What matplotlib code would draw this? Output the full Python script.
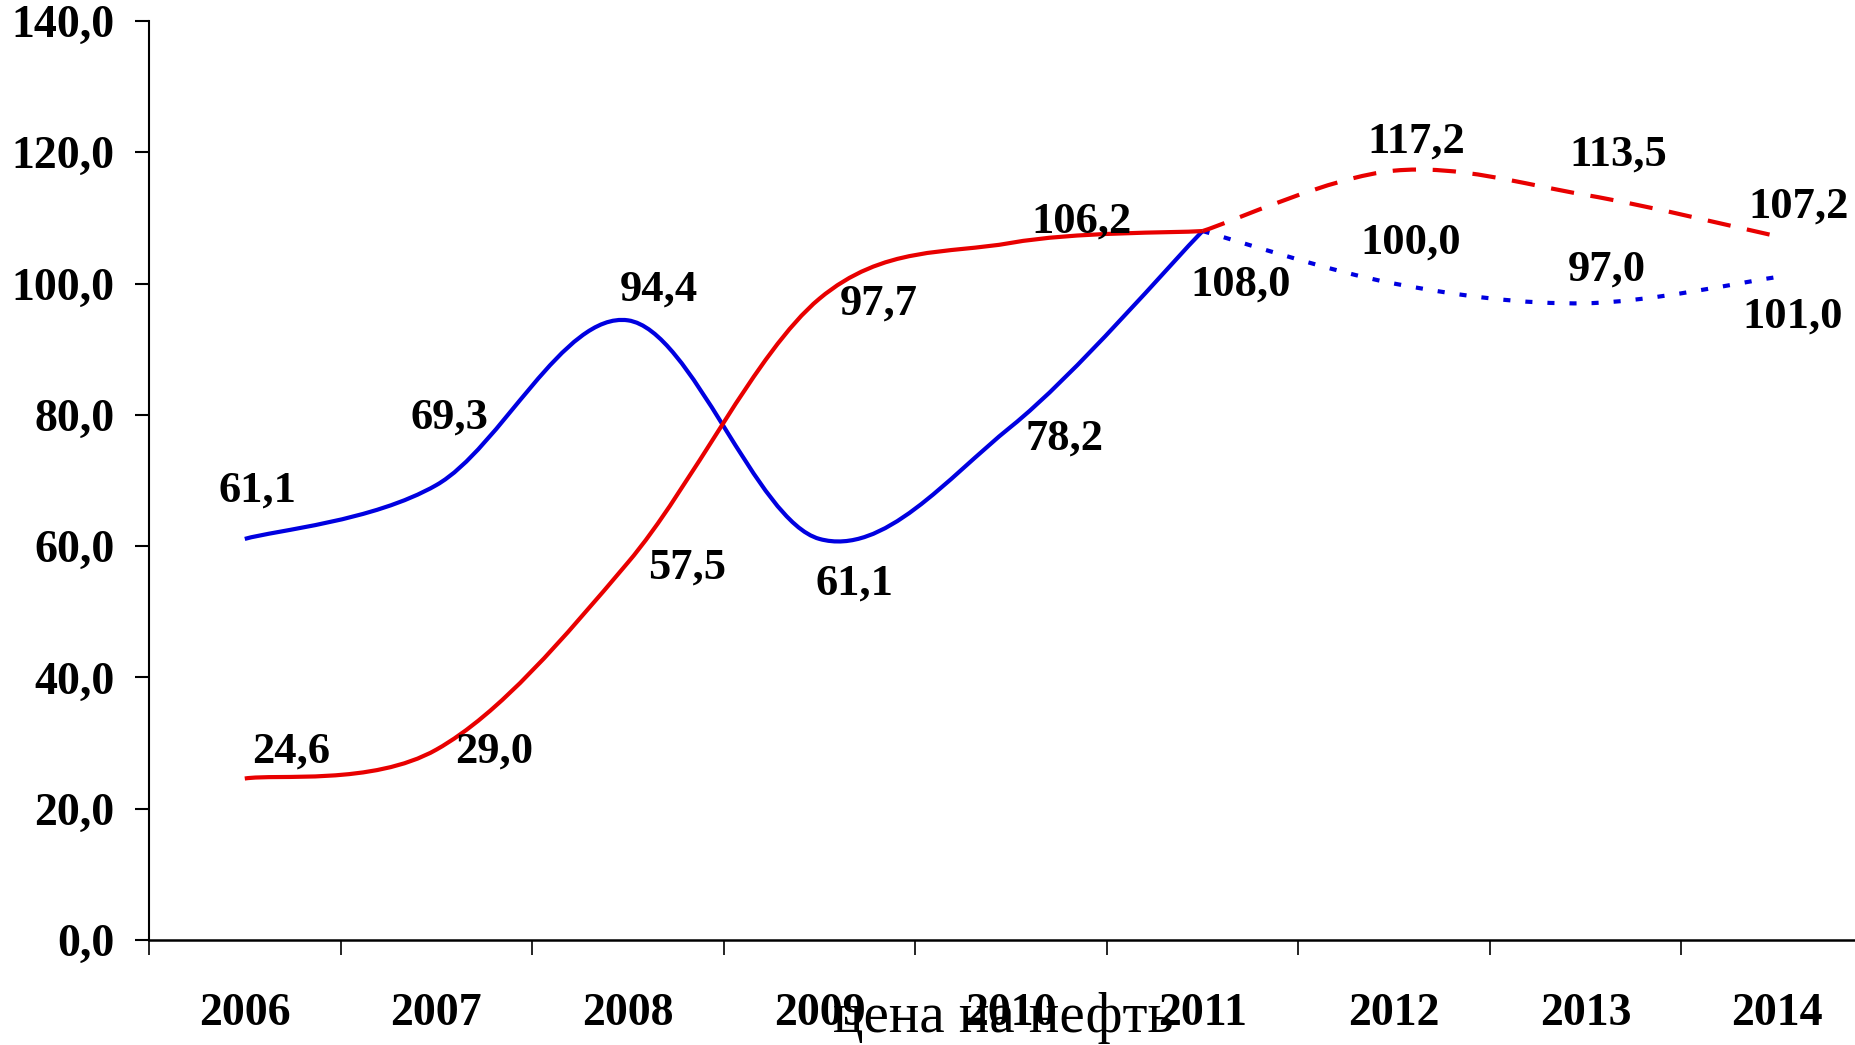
import numpy as np
import matplotlib
matplotlib.use("Agg")
import matplotlib.pyplot as plt
from matplotlib.path import Path
from matplotlib.patches import PathPatch
from matplotlib.ticker import FixedLocator, NullFormatter, FixedFormatter

years = ["2006", "2007", "2008", "2009", "2010", "2011", "2012", "2013", "2014"]

# blue series: actual (2006-2011) and forecast (2011-2014)
blue_fact = [61.1, 69.3, 94.4, 61.1, 78.2, 108.0]
blue_fcst = [108.0, 100.0, 97.0, 101.0]
# red series
red_fact = [24.6, 29.0, 57.5, 97.7, 106.2, 108.0]
red_fcst = [108.0, 117.2, 113.5, 107.2]

# label offsets in pixels (dx, dy), one per labelled point
blue_lbl_fact = [(13, 48), (13, 68), (31, 31), (35, -45), (54, -12), (38, -54)]
blue_lbl_fcst = [None, (17, 41), (21, 34), (15, -40)]
red_lbl_fact = [(46, 27), (58, -2), (59, -5), (59, -5), (71, 21), None]
red_lbl_fcst = [None, (22, 29), (33, 40), (21, 30)]

BLUE = "#0000e0"
RED = "#e80000"
SERIF = "Liberation Serif"


def smooth_path(xs, ys):
    # Excel-style smoothed line: cubic bezier between points
    pts = np.column_stack([xs, ys]).astype(float)
    n = len(pts)
    verts = [pts[0]]
    codes = [Path.MOVETO]
    for i in range(n - 1):
        p_prev = pts[i - 1] if i > 0 else pts[i]
        p_next = pts[i + 2] if i + 2 < n else pts[i + 1]
        c1 = pts[i] + (pts[i + 1] - p_prev) / 6
        c2 = pts[i + 1] - (p_next - pts[i]) / 6
        verts += [c1, c2, pts[i + 1]]
        codes += [Path.CURVE4] * 3
    return Path(verts, codes)


def fmt(v):
    return f"{v:.1f}".replace(".", ",")


fig = plt.figure(figsize=(18.55, 10.45), dpi=100)
ax = fig.add_axes([149 / 1855, 105 / 1045, 1724 / 1855, 919 / 1045])
ax.set_xlim(-0.5, 8.5)
ax.set_ylim(0, 140)

x_fact = np.arange(0, 6)
x_fcst = np.arange(5, 9)

lw = 3.0
ax.add_patch(PathPatch(smooth_path(x_fact, blue_fact), fc="none", ec=BLUE, lw=lw,
                       capstyle="butt", joinstyle="round"))
ax.add_patch(PathPatch(smooth_path(x_fcst, blue_fcst), fc="none", ec=BLUE, lw=lw,
                       linestyle=(0, (1.7, 3.6)), capstyle="butt"))
ax.add_patch(PathPatch(smooth_path(x_fact, red_fact), fc="none", ec=RED, lw=lw,
                       capstyle="butt", joinstyle="round"))
ax.add_patch(PathPatch(smooth_path(x_fcst, red_fcst), fc="none", ec=RED, lw=lw,
                       linestyle=(0, (5.6, 4.0)), capstyle="butt"))

for xs, vals, offs in [(x_fact, blue_fact, blue_lbl_fact), (x_fcst, blue_fcst, blue_lbl_fcst),
                       (x_fact, red_fact, red_lbl_fact), (x_fcst, red_fcst, red_lbl_fcst)]:
    for x, v, off in zip(xs, vals, offs):
        if off is None:
            continue
        ax.annotate(fmt(v), (x, v), xytext=off, textcoords="offset pixels",
                    ha="center", va="center", fontsize=32, fontweight="bold",
                    family=SERIF, color="black")

# axes styling
for s in ["top", "right"]:
    ax.spines[s].set_visible(False)
ax.spines["left"].set_linewidth(1.5)
ax.spines["bottom"].set_linewidth(1.8)

yt = np.arange(0, 141, 20)
ax.set_yticks(yt)
ax.set_yticklabels([fmt(v) for v in yt])
ax.tick_params(axis="y", direction="out", length=10, width=1.5, pad=15)

ax.xaxis.set_major_locator(FixedLocator(np.arange(-0.5, 9, 1.0)))
ax.xaxis.set_major_formatter(NullFormatter())
ax.xaxis.set_minor_locator(FixedLocator(np.arange(0, 9)))
ax.xaxis.set_minor_formatter(FixedFormatter(years))
ax.tick_params(axis="x", which="major", direction="out", length=11, width=1.2)
ax.tick_params(axis="x", which="minor", length=0, pad=38)

for lab in ax.get_yticklabels() + ax.get_xticklabels(minor=True):
    lab.set_fontfamily(SERIF)
    lab.set_fontweight("bold")
    lab.set_fontsize(33)

fig.text(1003 / 1855, 1 - 1018 / 1045, "цена на нефть", ha="center", va="center",
         fontsize=41, family=SERIF, color="black")

fig.savefig("out.png", dpi=100)
